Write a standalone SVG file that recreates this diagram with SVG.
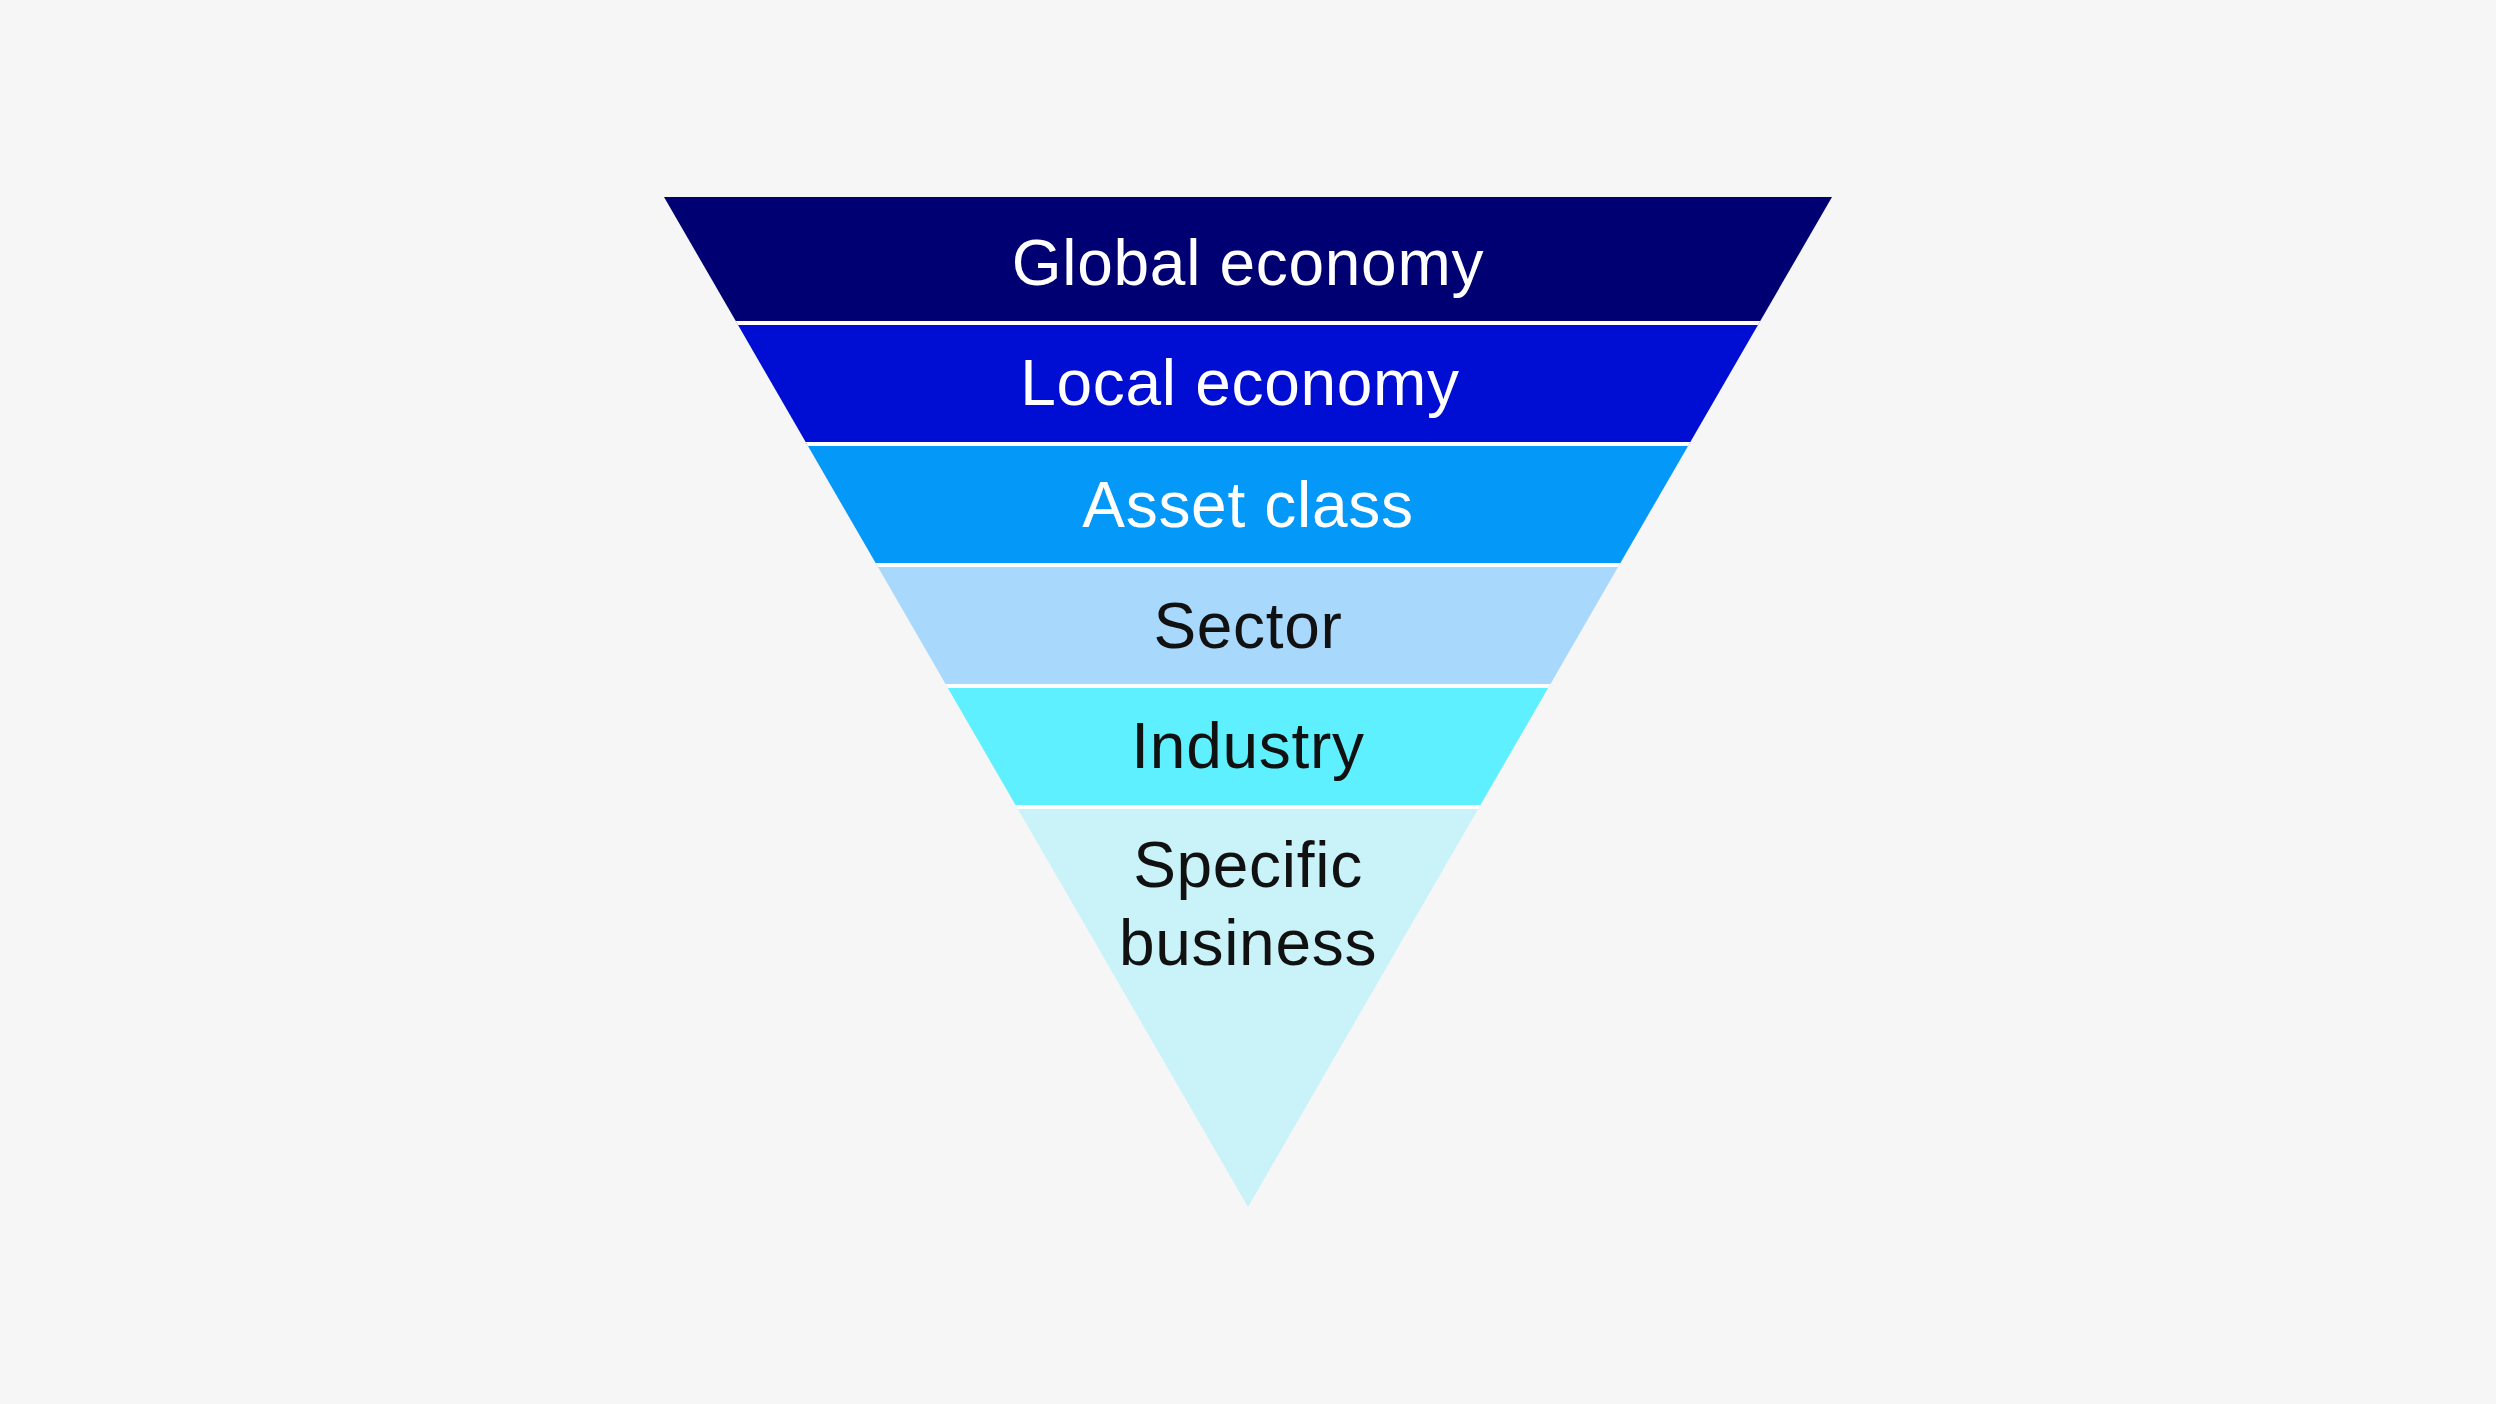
<svg xmlns="http://www.w3.org/2000/svg" width="2496" height="1404" viewBox="0 0 2496 1404">
  <style>
    .lbl { font-family: "Liberation Sans", Arial, sans-serif; font-size: 64px; letter-spacing: 0.7px; text-anchor: middle; }
    .light { fill: #ffffff; }
    .dark { fill: #111111; }
    .sep { stroke: #ffffff; stroke-width: 4; }
  </style>
  <defs>
    <clipPath id="tri">
      <polygon points="664,197 1832,197 1248,1207"/>
    </clipPath>
  </defs>
  <rect x="0" y="0" width="2496" height="1404" fill="#f6f6f6"/>
  <g id="global-economy">
    <polygon points="664,197 1832,197 1759.1,323 736.9,323" fill="#000073"/>
    <text class="lbl light" x="1248" y="285">Global economy</text>
  </g>
  <g id="local-economy">
    <polygon points="736.9,323 1759.1,323 1689.2,444 806.8,444" fill="#000dd3"/>
    <text class="lbl light" x="1240" y="405">Local economy</text>
  </g>
  <g id="asset-class">
    <polygon points="806.8,444 1689.2,444 1619.2,565 876.8,565" fill="#0498f9"/>
    <text class="lbl light" x="1248" y="527">Asset class</text>
  </g>
  <g id="sector">
    <polygon points="876.8,565 1619.2,565 1549.3,686 946.7,686" fill="#a8d8fc"/>
    <text class="lbl dark" x="1248" y="648">Sector</text>
  </g>
  <g id="industry">
    <polygon points="946.7,686 1549.3,686 1479.3,807 1016.7,807" fill="#5ef0fe"/>
    <text class="lbl dark" x="1248" y="768">Industry</text>
  </g>
  <g id="specific-business">
    <polygon points="1016.7,807 1479.3,807 1248,1207" fill="#c9f3f9"/>
    <text class="lbl dark" x="1248" y="887">Specific</text>
    <text class="lbl dark" x="1248" y="965">business</text>
  </g>
  <g id="separators" clip-path="url(#tri)">
    <line class="sep" x1="600" y1="323" x2="1900" y2="323"/>
    <line class="sep" x1="600" y1="444" x2="1900" y2="444"/>
    <line class="sep" x1="600" y1="565" x2="1900" y2="565"/>
    <line class="sep" x1="600" y1="686" x2="1900" y2="686"/>
    <line class="sep" x1="600" y1="807" x2="1900" y2="807"/>
  </g>
</svg>
